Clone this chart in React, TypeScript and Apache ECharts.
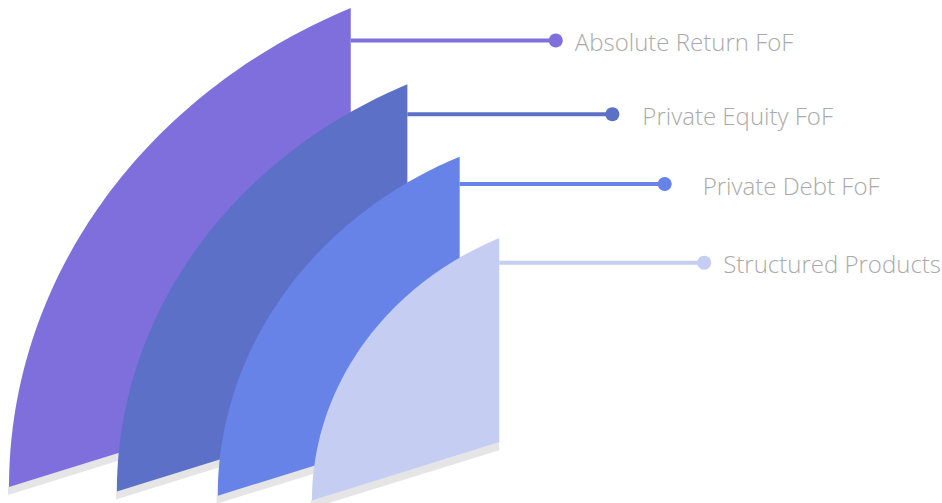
import React, { useEffect, useRef } from "react";
import * as echarts from "echarts";

const CATEGORIES = ["Absolute Return FoF", "Private Equity FoF", "Private Debt FoF", "Structured Products"];
const VALUES = [100, 85, 70.8, 54.8];
const COLORS = ["#7f6fdd", "#5b70c6", "#6783e8", "#c5cef2"];
const LABEL_GAP = [19, 30, 38, 19];

export default function App() {
  const ref = useRef<HTMLDivElement>(null);
  useEffect(() => {
    if (!ref.current) return;
    const chart = echarts.init(ref.current, undefined, { renderer: "svg" });
    const data = VALUES.map((v, i) => [i, v]);
    const renderItem = (params: any, api: any) => {
      const i = params.dataIndex;
      const v = VALUES[i];
      const origin = api.coord([0, 0]);
      const pxX = api.size([1, 0])[0];
      const pxY = api.size([0, 1])[1];
      let offUnits = 0;
      for (let j = 0; j < i; j++) offUnits += 17.9 + 0.1366 * VALUES[j];
      const L = origin[0] + offUnits * pxX;
      const W = v * pxX;
      const R = L + W;
      const B = origin[1] + 0.3 * (100 - v);
      const H = v * pxY;
      const T = B - H;
      const a = 1.728 * W;
      const k = (a - W) / a;
      const b = H / Math.sqrt(1 - k * k);
      const cx = L + a;
      const cy = B;
      const th0 = Math.acos(-k);
      const pts: number[][] = [];
      const N = 80;
      for (let s = 0; s <= N; s++) {
        const th = th0 + ((Math.PI - th0) * s) / N;
        pts.push([cx + a * Math.cos(th), cy - b * Math.sin(th)]);
      }
      pts[0] = [R, T];
      pts[N] = [L, B];
      const drop = 0.222 * H;
      pts.push([R, B - drop]);
      const shadow = [
        [L - 1, B],
        [R, B - drop],
        [R, B - drop + 8],
        [L - 1, B + 8],
      ];
      const ly = T + 15 + 0.0365 * H;
      const dotX = R + 205;
      const color = COLORS[i];
      return {
        type: "group",
        children: [
          { type: "polygon", shape: { points: shadow }, style: { fill: "#e5e5e5" } },
          { type: "polygon", shape: { points: pts }, style: { fill: color } },
          {
            type: "line",
            shape: { x1: R, y1: ly, x2: dotX, y2: ly },
            style: { stroke: color, lineWidth: 4 },
          },
          { type: "circle", shape: { cx: dotX, cy: ly, r: 7 }, style: { fill: color } },
          {
            type: "text",
            style: {
              text: CATEGORIES[i],
              x: dotX + LABEL_GAP[i],
              y: ly + 1,
              fill: "#aaaaaa",
              fontSize: 24,
              fontWeight: 300,
              fontFamily: "Open Sans",
              align: "left",
              verticalAlign: "middle",
            },
          },
        ],
      };
    };
    chart.setOption({
      animation: false,
      grid: { left: 9, right: 0, top: 8, bottom: 16 },
      xAxis: { type: "value", min: 0, max: 273, show: false },
      yAxis: { type: "value", min: 0, max: 100, show: false },
      series: [
        {
          type: "custom",
          renderItem,
          data,
          encode: { x: 0, y: 1 },
          clip: false,
        },
      ],
    });
    return () => chart.dispose();
  }, []);
  return (
    <div
      ref={ref}
      style={{ position: "fixed", left: 0, top: 0, width: 942, height: 503, background: "#fff" }}
    />
  );
}
